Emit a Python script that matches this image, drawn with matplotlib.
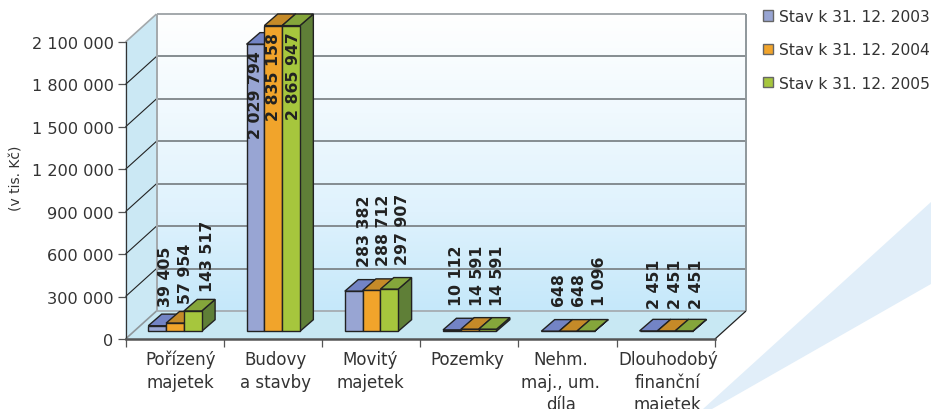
# -*- coding: utf-8 -*-
import numpy as np
import matplotlib
matplotlib.use('Agg')
import matplotlib.pyplot as plt
from matplotlib.colors import LinearSegmentedColormap
from matplotlib.patches import Patch, Polygon

categories = ['Pořízený\nmajetek', 'Budovy\na stavby', 'Movitý\nmajetek', 'Pozemky',
              'Nehm.\nmaj., um.\ndíla', 'Dlouhodobý\nfinanční\nmajetek']
series_names = ['Stav k 31. 12. 2003', 'Stav k 31. 12. 2004', 'Stav k 31. 12. 2005']
stav_2003 = [39405, 2029794, 283382, 10112, 648, 2451]
stav_2004 = [57954, 2835158, 288712, 14591, 648, 2451]
stav_2005 = [143517, 2865947, 297907, 14591, 1096, 2451]
yticks = [0, 300000, 600000, 900000, 1200000, 1500000, 1800000, 2100000]

W, H = 931, 410
YMAX = 2100000
plt.rcParams['font.family'] = 'DejaVu Sans'
TXT = '#333333'

front = ['#98a5d3', '#f1a42b', '#a6c63d']
top = ['#7384c5', '#c58a28', '#85a63b']
side = ['#5a6aa0', '#a06f1f', '#5f7f37']

# pixel geometry of the 3d box
left, right, y0, ytop = 125.5, 715.0, 340.0, 43.0
wall_dx, wall_dy = 31.0, 28.0
bar_w = 17.8
bar_dx, bar_dy = 13.4, 11.6
base_dy = 7.7
group_start = 22.8

fig = plt.figure(figsize=(W / 100, H / 100), dpi=100)
fig.patches.append(Polygon([(703 / W, 0), (1, 1 - 203 / H), (1, 1 - 285 / H), (712 / W, 0)],
                           closed=True, transform=fig.transFigure, fc='#e1eef9', ec='none', zorder=0))
ax = fig.add_axes([left / W, 1 - y0 / H, (right - left) / W, (y0 - ytop) / H])
ax.patch.set_visible(False)
ax.set_xlim(0, 6)
ax.set_ylim(0, YMAX)

ux = 6 / (right - left)
uy = YMAX / (y0 - ytop)
wx, wy = wall_dx * ux, wall_dy * uy


def poly(pts, fc, ec='none', lw=0, z=1):
    ax.add_patch(Polygon(pts, closed=True, fc=fc, ec=ec, lw=lw, zorder=z, clip_on=False, joinstyle='miter'))


def line(xs, ys, c, lw, z=2):
    ax.plot(xs, ys, color=c, lw=lw, zorder=z, clip_on=False, solid_capstyle='butt')


# back wall gradient
cmap = LinearSegmentedColormap.from_list('wall', ['#ffffff', '#f0f9fe', '#dff2fd', '#c5e8fa'])
ax.imshow(np.linspace(0, 1, 256).reshape(-1, 1), cmap=cmap, aspect='auto', zorder=1, clip_on=False,
          extent=(wx, 6 + wx, wy, YMAX + wy), origin='upper')
ax.set_xlim(0, 6)
ax.set_ylim(0, YMAX)

# side wall and floor
poly([(0, 0), (wx, wy), (wx, YMAX + wy), (0, YMAX)], '#cbe8f4')
poly([(0, 0), (6, 0), (6 + wx, wy), (wx, wy)], '#c8e8f3')

for t in yticks[1:-1]:
    line([wx, 6 + wx], [t + wy, t + wy], '#7d8488', 1.3)
    line([0, wx], [t, t + wy], '#222222', 0.8)
line([wx, 6 + wx], [YMAX + wy, YMAX + wy], '#a3a8ab', 1.4)
line([0, wx], [YMAX, YMAX + wy], '#a3a8ab', 1.2)
line([wx, wx], [wy, YMAX + wy], '#a3a8ab', 1.4)
line([6 + wx, 6 + wx], [wy, YMAX + wy], '#8f979b', 1.4)
line([wx, 6 + wx], [wy, wy], '#a3a8ab', 1.2)
line([0, wx], [0, wy], '#8f979b', 1.2)
line([6, 6 + wx], [0, wy], '#222222', 0.9)

# bars, values above the axis are cut where the back of the bar meets the wall top
base = base_dy * uy
bw, bx, by = bar_w * ux, bar_dx * ux, bar_dy * uy
clip_val = YMAX + wy - base - by
label_dx = [[8, 10, 14.7], [0, 0, 2], [10.7, 11.7, 13.7], [5, 8, 10], [8, 11, 14], [6, 9, 12]]
label_gap = [8.5, 0, 14, 13, 15, 11]

for s, vals in enumerate([stav_2003, stav_2004, stav_2005]):
    for i, v in enumerate(vals):
        x0 = i + (group_start + s * bar_w) * ux
        x1 = x0 + bw
        h = base + min(v, clip_val)
        z = 5 + s * 0.1
        poly([(x1, base), (x1 + bx, base + by), (x1 + bx, h + by), (x1, h)], side[s], '#222222', 1, z)
        poly([(x0, h), (x1, h), (x1 + bx, h + by), (x0 + bx, h + by)], top[s], '#222222', 1, z)
        poly([(x0, base), (x1, base), (x1, h), (x0, h)], front[s], '#222222', 1, z)
        txt = f'{v:,}'.replace(',', ' ')
        cx = (x0 + x1) / 2
        if i == 1:
            ax.annotate(txt, (cx, h), xytext=(label_dx[i][s] * 0.72, -6 * 0.72), textcoords='offset points',
                        rotation=90, ha='center', va='top', fontsize=11.3, fontweight='bold',
                        color='#222222', zorder=8, annotation_clip=False)
        else:
            ax.annotate(txt, (cx, h + by), xytext=(label_dx[i][s] * 0.72, label_gap[i] * 0.72),
                        textcoords='offset points', rotation=90, ha='center', va='bottom', fontsize=11.3,
                        fontweight='bold', color='#222222', zorder=8, annotation_clip=False)

# axes
for sp in ['top', 'right']:
    ax.spines[sp].set_visible(False)
ax.spines['left'].set_color('#333333')
ax.spines['left'].set_linewidth(0.9)
ax.spines['bottom'].set_color('#555555')
ax.spines['bottom'].set_linewidth(1.8)
for sp in ax.spines.values():
    sp.set_zorder(4)
ax.set_yticks(yticks)
ax.set_yticklabels([f'{t:,}'.replace(',', ' ') for t in yticks], fontsize=11.6, color=TXT)
ax.set_xticks(range(7))
ax.set_xticklabels([])
ax.tick_params(axis='both', length=5.5, width=0.9, color='#555555', pad=3)

label_shift = [6, 3, -1, -2, -7, 2]
for i, c in enumerate(categories):
    ax.annotate(c, (i + 0.5, 0), xytext=(label_shift[i] * 0.72, -11 * 0.72), textcoords='offset points',
                ha='center', va='top', fontsize=12, color=TXT, linespacing=1.33, annotation_clip=False)

fig.text(17 / W, 1 - 178 / H, '(v tis. Kč)', rotation=90, ha='center', va='center', fontsize=10, color=TXT)

handles = [Patch(fc=front[k], ec='#666666', lw=1) for k in range(3)]
fig.legend(handles, series_names, loc='upper left', bbox_to_anchor=(763 / W, 1 - 10 / H), frameon=False,
           fontsize=11.2, labelcolor=TXT, handlelength=0.62, handleheight=0.62, handletextpad=0.4,
           labelspacing=1.18, borderpad=0, borderaxespad=0)

plt.savefig('out.png', dpi=100)
